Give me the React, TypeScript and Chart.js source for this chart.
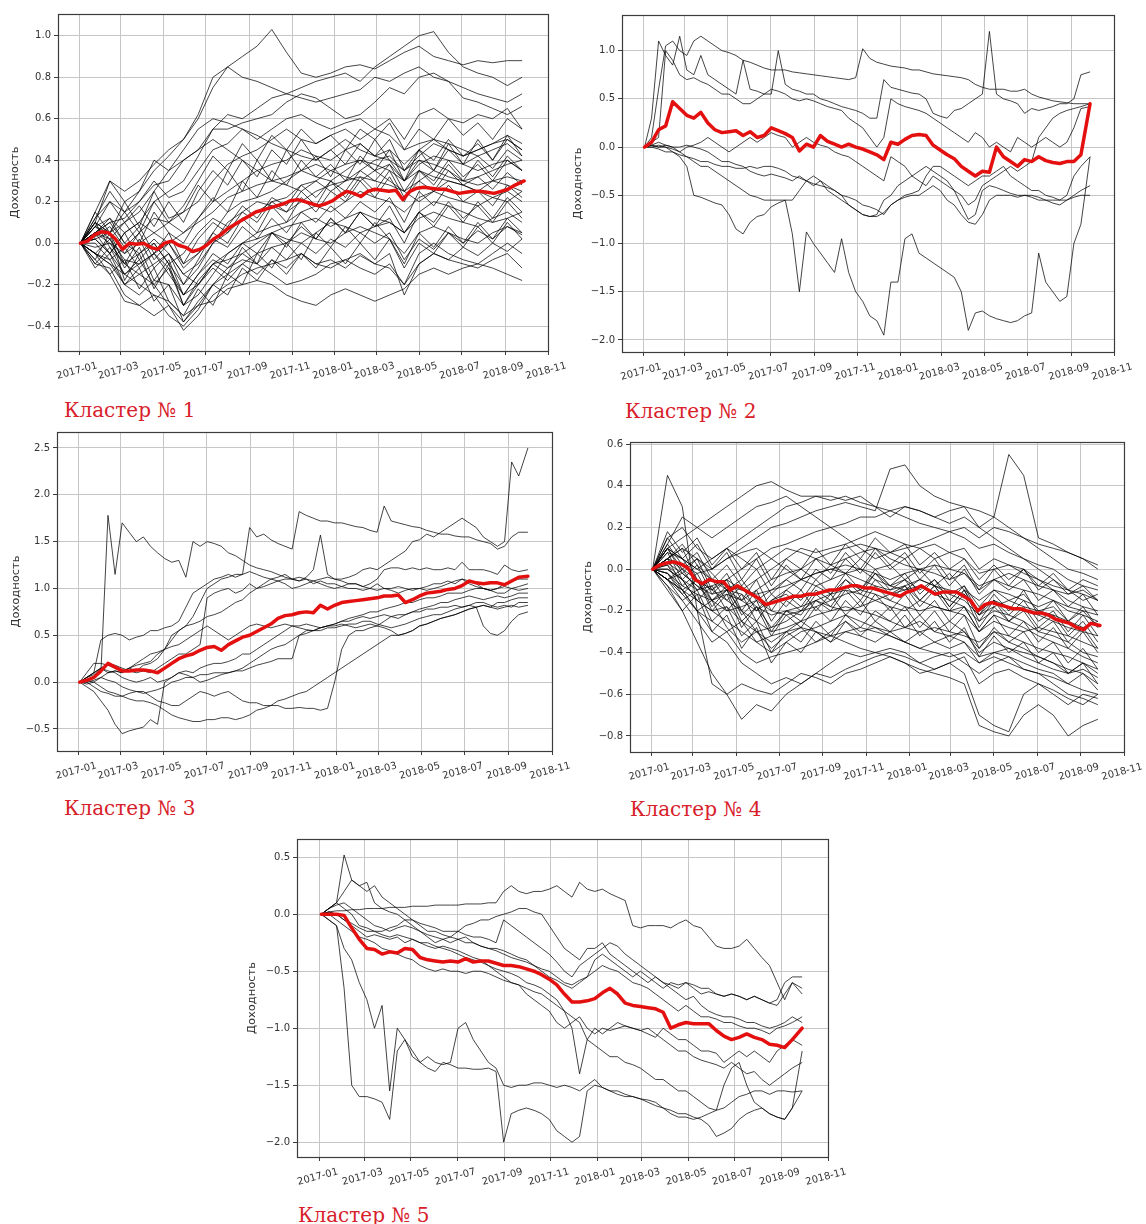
import React, { useEffect, useRef } from "react";
import { Chart, registerables } from "chart.js";

Chart.register(...registerables);

// ---------- calendar (days since 2017-01-01) ----------
const X_MIN = -30;
const X_MAX = 669;
const X_TICK_DAYS = [0, 59, 120, 181, 243, 304, 365, 424, 485, 546, 608, 669];
const X_TICK_LABELS = ["2017-01", "2017-03", "2017-05", "2017-07", "2017-09", "2017-11", "2018-01", "2018-03", "2018-05", "2018-07", "2018-09", "2018-11"];
const COARSE_DAYS = [2, 23, 44, 65, 86, 107, 128, 149, 170, 191, 212, 233, 254, 275, 296, 317, 338, 359, 380, 401, 422, 443, 464, 485, 506, 527, 548, 569, 590, 611, 632];
const FINE_DAYS = [2, 12, 22, 32, 42, 52, 62, 72, 82, 92, 102, 112, 122, 132, 142, 152, 162, 172, 182, 192, 202, 212, 222, 232, 242, 252, 262, 272, 282, 292, 302, 312, 322, 332, 342, 352, 362, 372, 382, 392, 402, 412, 422, 432, 442, 452, 462, 472, 482, 492, 502, 512, 522, 532, 542, 552, 562, 572, 582, 592, 602, 612, 622, 635];

// ---------- cluster 1 ----------
const C1_Y_TICKS = [-0.4, -0.2, 0.0, 0.2, 0.4, 0.6, 0.8, 1.0];
const C1_MEAN = [0.0, 0.01, 0.04, 0.055, 0.05, 0.02, -0.03, 0.0, -0.005, 0.0, -0.02, -0.03, 0.0, 0.01, -0.01, -0.02, -0.04, -0.03, -0.01, 0.02, 0.04, 0.07, 0.09, 0.11, 0.13, 0.15, 0.16, 0.17, 0.18, 0.19, 0.205, 0.21, 0.2, 0.19, 0.18, 0.19, 0.205, 0.23, 0.25, 0.24, 0.225, 0.25, 0.26, 0.255, 0.25, 0.255, 0.21, 0.25, 0.265, 0.27, 0.265, 0.26, 0.26, 0.25, 0.24, 0.245, 0.25, 0.25, 0.245, 0.24, 0.25, 0.26, 0.28, 0.3];
const C1_STOCKS = [
  [0, 0.08, 0.2, 0.15, 0.25, 0.35, 0.42, 0.5, 0.6, 0.75, 0.85, 0.9, 0.95, 1.03, 0.92, 0.82, 0.8, 0.82, 0.85, 0.86, 0.84, 0.88, 0.92, 0.95, 0.9, 0.88, 0.86, 0.88, 0.87, 0.88, 0.88],
  [0, 0.05, 0.1, 0.12, 0.2, 0.28, 0.3, 0.4, 0.45, 0.55, 0.62, 0.6, 0.65, 0.7, 0.72, 0.75, 0.78, 0.8, 0.82, 0.78, 0.85, 0.9, 0.95, 1.0, 1.02, 0.92, 0.85, 0.82, 0.8, 0.76, 0.8],
  [0, 0.1, 0.3, 0.25, 0.3, 0.38, 0.45, 0.5, 0.62, 0.8, 0.85, 0.8, 0.78, 0.75, 0.72, 0.7, 0.68, 0.7, 0.72, 0.74, 0.8, 0.78, 0.82, 0.85, 0.8, 0.78, 0.75, 0.72, 0.7, 0.68, 0.72],
  [0, 0.02, -0.05, 0.05, 0.1, 0.2, 0.25, 0.3, 0.42, 0.55, 0.55, 0.58, 0.6, 0.62, 0.68, 0.72, 0.7, 0.65, 0.6, 0.62, 0.68, 0.75, 0.72, 0.8, 0.82, 0.78, 0.7, 0.68, 0.65, 0.62, 0.66],
  [0, 0.05, 0.0, -0.05, 0.05, 0.12, 0.1, 0.15, 0.2, 0.3, 0.38, 0.42, 0.45, 0.5, 0.55, 0.5, 0.48, 0.52, 0.55, 0.5, 0.55, 0.6, 0.5, 0.62, 0.65, 0.6, 0.58, 0.62, 0.6, 0.65, 0.55],
  [0, 0.12, 0.25, 0.15, 0.2, 0.3, 0.22, 0.25, 0.35, 0.45, 0.48, 0.55, 0.52, 0.48, 0.45, 0.42, 0.4, 0.45, 0.5, 0.45, 0.42, 0.4, 0.35, 0.42, 0.48, 0.45, 0.42, 0.45, 0.48, 0.5, 0.45],
  [0, -0.05, -0.1, -0.15, -0.1, -0.05, 0.0, 0.05, 0.12, 0.2, 0.25, 0.3, 0.35, 0.38, 0.4, 0.45, 0.42, 0.4, 0.45, 0.48, 0.42, 0.45, 0.38, 0.45, 0.5, 0.48, 0.45, 0.42, 0.45, 0.48, 0.42],
  [0, 0.08, 0.05, -0.05, 0.0, 0.05, 0.0, -0.1, -0.05, 0.05, 0.15, 0.2, 0.22, 0.25, 0.3, 0.35, 0.32, 0.3, 0.35, 0.4, 0.38, 0.35, 0.3, 0.38, 0.42, 0.4, 0.38, 0.35, 0.38, 0.4, 0.35],
  [0, 0.02, 0.05, -0.1, -0.15, -0.1, -0.05, -0.15, -0.1, 0.0, 0.05, 0.12, 0.15, 0.2, 0.22, 0.28, 0.3, 0.25, 0.3, 0.32, 0.3, 0.28, 0.25, 0.3, 0.35, 0.32, 0.3, 0.28, 0.3, 0.32, 0.3],
  [0, -0.05, -0.08, -0.2, -0.25, -0.18, -0.2, -0.3, -0.25, -0.15, -0.05, 0.0, 0.05, 0.08, 0.1, 0.15, 0.18, 0.15, 0.2, 0.25, 0.22, 0.2, 0.15, 0.22, 0.25, 0.22, 0.2, 0.18, 0.22, 0.25, 0.2],
  [0, 0.05, 0.1, 0.0, -0.05, 0.02, -0.05, -0.15, -0.2, -0.1, -0.05, 0.0, 0.02, 0.05, 0.08, 0.1, 0.12, 0.08, 0.12, 0.15, 0.12, 0.1, 0.05, 0.12, 0.15, 0.12, 0.1, 0.08, 0.12, 0.15, 0.1],
  [0, -0.08, -0.15, -0.28, -0.3, -0.25, -0.35, -0.4, -0.32, -0.2, -0.15, -0.1, -0.05, -0.02, 0.0, 0.05, 0.02, 0.0, 0.05, 0.08, 0.05, 0.02, -0.05, 0.05, 0.08, 0.05, 0.02, 0.0, 0.05, 0.08, 0.05],
  [0, -0.05, -0.1, -0.2, -0.15, -0.2, -0.3, -0.42, -0.35, -0.25, -0.2, -0.15, -0.12, -0.1, -0.08, -0.05, -0.1, -0.12, -0.08, -0.05, -0.1, -0.12, -0.2, -0.1, -0.05, -0.08, -0.1, -0.12, -0.08, -0.05, -0.12],
  [0, 0.02, -0.05, -0.15, -0.2, -0.25, -0.28, -0.35, -0.3, -0.28, -0.22, -0.2, -0.18, -0.2, -0.25, -0.28, -0.3, -0.25, -0.22, -0.25, -0.28, -0.25, -0.22, -0.15, -0.12, -0.15, -0.12, -0.1, -0.12, -0.15, -0.18],
  [0, 0.1, 0.05, 0.1, 0.15, 0.25, 0.35, 0.4, 0.45, 0.5, 0.45, 0.4, 0.35, 0.3, 0.28, 0.25, 0.3, 0.35, 0.38, 0.4, 0.35, 0.3, 0.25, 0.2, 0.25, 0.3, 0.28, 0.25, 0.3, 0.28, 0.25],
  [0, -0.02, 0.0, -0.1, -0.05, 0.0, -0.1, -0.2, -0.12, 0.0, 0.1, 0.15, 0.2, 0.18, 0.15, 0.2, 0.25, 0.28, 0.3, 0.35, 0.4, 0.42, 0.35, 0.4, 0.38, 0.35, 0.3, 0.32, 0.35, 0.38, 0.4],
  [0, 0.05, 0.02, -0.08, -0.1, -0.05, -0.12, -0.25, -0.2, -0.1, -0.08, -0.05, 0.0, 0.05, 0.02, 0.0, 0.05, 0.1, 0.08, 0.05, 0.08, 0.1, 0.05, 0.15, 0.2, 0.18, 0.15, 0.12, 0.1, 0.12, 0.15],
  [0, 0.15, 0.3, 0.2, 0.25, 0.4, 0.35, 0.45, 0.55, 0.6, 0.58, 0.55, 0.5, 0.55, 0.6, 0.62, 0.58, 0.55, 0.58, 0.6, 0.55, 0.52, 0.45, 0.48, 0.5, 0.45, 0.42, 0.45, 0.48, 0.52, 0.48],
  [0, -0.1, -0.12, -0.25, -0.3, -0.35, -0.3, -0.38, -0.3, -0.2, -0.12, -0.08, -0.1, -0.15, -0.2, -0.18, -0.15, -0.1, -0.08, -0.12, -0.15, -0.1, -0.2, -0.05, 0.0, -0.05, -0.08, -0.1, -0.05, 0.0, -0.05],
  [0, 0.08, 0.12, 0.05, 0.1, 0.05, 0.1, 0.05, 0.1, 0.15, 0.22, 0.25, 0.28, 0.3, 0.32, 0.35, 0.38, 0.35, 0.32, 0.3, 0.35, 0.38, 0.3, 0.35, 0.32, 0.3, 0.28, 0.25, 0.22, 0.2, 0.25],
];
const C1_NOISY = [
  [0, 0.1, -0.02, -0.1, 0.02, -0.12, -0.05, -0.2, -0.08, 0.05, 0.0, 0.12, 0.05, 0.18, 0.1, 0.22, 0.15, 0.25, 0.2, 0.3, 0.22, 0.32, 0.2, 0.35, 0.28, 0.38, 0.3, 0.4, 0.32, 0.42, 0.35],
  [0, -0.08, 0.05, -0.18, -0.05, -0.22, -0.1, -0.3, -0.18, -0.1, -0.15, -0.02, -0.1, 0.05, -0.02, 0.1, 0.02, 0.12, 0.05, 0.15, 0.08, 0.12, 0.0, 0.15, 0.08, 0.18, 0.1, 0.2, 0.12, 0.22, 0.15],
  [0, 0.15, 0.05, 0.2, 0.08, 0.25, 0.12, 0.15, 0.28, 0.2, 0.35, 0.25, 0.4, 0.3, 0.45, 0.35, 0.42, 0.32, 0.45, 0.38, 0.5, 0.4, 0.3, 0.45, 0.35, 0.48, 0.38, 0.5, 0.4, 0.52, 0.42],
  [0, -0.05, -0.15, -0.08, -0.22, -0.12, -0.28, -0.35, -0.22, -0.3, -0.15, -0.2, -0.05, -0.12, 0.0, -0.08, 0.05, -0.02, 0.08, 0.0, 0.1, 0.02, -0.1, 0.05, -0.02, 0.08, 0.0, 0.1, 0.02, 0.12, 0.05],
  [0, 0.05, 0.12, 0.0, 0.08, -0.05, 0.05, -0.1, 0.02, 0.1, 0.05, 0.15, 0.1, 0.2, 0.15, 0.25, 0.18, 0.3, 0.22, 0.32, 0.25, 0.35, 0.22, 0.3, 0.25, 0.35, 0.28, 0.32, 0.26, 0.34, 0.28],
  [0, -0.12, -0.05, -0.2, -0.12, -0.28, -0.2, -0.38, -0.28, -0.2, -0.25, -0.12, -0.18, -0.08, -0.15, -0.05, -0.12, -0.02, -0.1, 0.0, -0.08, 0.02, -0.12, 0.0, -0.05, 0.05, -0.02, 0.08, 0.0, 0.1, 0.02],
  [0, 0.08, 0.02, 0.1, 0.0, 0.15, 0.05, 0.0, 0.12, 0.22, 0.15, 0.3, 0.22, 0.35, 0.28, 0.4, 0.32, 0.38, 0.3, 0.42, 0.35, 0.45, 0.3, 0.4, 0.35, 0.45, 0.38, 0.42, 0.36, 0.45, 0.4],
  [0, 0.0, -0.08, -0.02, -0.12, -0.05, -0.15, -0.25, -0.15, -0.05, -0.1, 0.0, -0.05, 0.05, 0.0, 0.08, 0.02, 0.12, 0.05, 0.15, 0.08, 0.18, 0.05, 0.15, 0.1, 0.2, 0.12, 0.18, 0.1, 0.2, 0.12],
  [0, 0.12, 0.2, 0.1, 0.18, 0.08, 0.2, 0.1, 0.25, 0.35, 0.28, 0.4, 0.32, 0.45, 0.38, 0.5, 0.4, 0.45, 0.38, 0.48, 0.42, 0.5, 0.35, 0.45, 0.4, 0.5, 0.42, 0.48, 0.4, 0.5, 0.45],
  [0, -0.05, 0.02, -0.12, -0.02, -0.18, -0.08, -0.25, -0.15, -0.08, -0.12, -0.05, -0.1, -0.02, -0.08, 0.0, -0.05, 0.02, -0.02, 0.05, 0.0, 0.05, -0.08, 0.02, -0.03, 0.05, 0.0, 0.06, 0.02, 0.08, 0.04],
  [0, 0.05, -0.05, 0.05, -0.08, 0.0, -0.1, -0.05, 0.05, 0.12, 0.08, 0.18, 0.12, 0.22, 0.18, 0.28, 0.22, 0.3, 0.25, 0.35, 0.3, 0.38, 0.25, 0.35, 0.3, 0.4, 0.32, 0.38, 0.3, 0.4, 0.35],
  [0, -0.1, -0.02, -0.15, -0.08, -0.2, -0.12, -0.3, -0.2, -0.12, -0.18, -0.1, -0.15, -0.08, -0.12, -0.05, -0.1, -0.08, -0.12, -0.06, -0.1, -0.05, -0.25, -0.1, -0.05, -0.08, -0.02, -0.06, 0.0, -0.04, 0.02],
  [0, 0.1, 0.05, 0.15, 0.05, 0.2, 0.1, 0.18, 0.3, 0.42, 0.35, 0.48, 0.4, 0.52, 0.45, 0.55, 0.48, 0.52, 0.45, 0.55, 0.5, 0.58, 0.45, 0.55, 0.5, 0.6, 0.52, 0.58, 0.5, 0.6, 0.55],
  [0, 0.03, 0.08, -0.02, 0.05, -0.08, 0.0, -0.12, -0.05, 0.02, -0.02, 0.08, 0.02, 0.12, 0.05, 0.15, 0.1, 0.18, 0.12, 0.2, 0.15, 0.22, 0.1, 0.25, 0.18, 0.28, 0.2, 0.25, 0.18, 0.28, 0.22],
];

// ---------- cluster 2 ----------
const C2_Y_TICKS = [-2.0, -1.5, -1.0, -0.5, 0.0, 0.5, 1.0];
const C2_MEAN = [0.0, 0.05, 0.18, 0.22, 0.47, 0.4, 0.33, 0.3, 0.36, 0.25, 0.18, 0.15, 0.16, 0.17, 0.12, 0.16, 0.1, 0.12, 0.2, 0.17, 0.14, 0.1, -0.04, 0.03, 0.0, 0.12, 0.06, 0.03, 0.0, 0.03, 0.0, -0.02, -0.05, -0.08, -0.13, 0.05, 0.03, 0.08, 0.12, 0.13, 0.12, 0.02, -0.03, -0.08, -0.12, -0.2, -0.25, -0.3, -0.25, -0.26, 0.0, -0.1, -0.15, -0.2, -0.13, -0.15, -0.1, -0.14, -0.16, -0.17, -0.15, -0.15, -0.08, 0.45];
const C2_STOCKS = [
  [0, 0.1, 0.6, 1.05, 1.1, 1.0, 0.95, 1.1, 1.15, 1.1, 1.05, 1.0, 0.98, 0.95, 0.9, 0.88, 0.85, 0.82, 0.8, 0.8, 0.8, 0.78, 0.77, 0.76, 0.75, 0.74, 0.73, 0.72, 0.71, 0.7, 0.72, 1.02, 0.92, 0.88, 0.86, 0.84, 0.83, 0.82, 0.8, 0.8, 0.78, 0.76, 0.75, 0.74, 0.73, 0.72, 0.7, 0.65, 0.62, 0.6, 0.6, 0.6, 0.58, 0.58, 0.6, 0.55, 0.52, 0.5, 0.48, 0.47, 0.46, 0.45, 0.45, 0.45],
  [0, 0.3, 1.1, 0.95, 0.85, 1.15, 0.8, 0.75, 0.95, 0.75, 0.7, 0.65, 0.6, 0.55, 0.9, 0.6, 0.58, 0.55, 0.55, 1.0, 0.65, 0.6, 0.58, 0.55, 0.55, 0.5, 0.48, 0.45, 0.42, 0.4, 0.38, 0.35, 0.3, 0.3, 0.7, 0.62, 0.6, 0.58, 0.56, 0.55, 0.5, 0.35, 0.32, 0.3, 0.38, 0.4, 0.45, 0.5, 0.55, 1.2, 0.55, 0.5, 0.48, 0.45, 0.35, 0.4, 0.38, 0.4, 0.42, 0.45, 0.45, 0.5, 0.75, 0.78],
  [0, 0.0, -0.02, -0.05, -0.05, -0.08, -0.1, -0.12, -0.15, -0.15, -0.18, -0.2, -0.2, -0.22, -0.22, -0.2, -0.22, -0.2, -0.2, -0.22, -0.25, -0.3, -0.32, -0.35, -0.38, -0.4, -0.42, -0.45, -0.5, -0.52, -0.55, -0.6, -0.62, -0.65, -0.7, -0.6, -0.55, -0.52, -0.5, -0.5, -0.45, -0.4, -0.45, -0.55, -0.6, -0.7, -0.78, -0.8, -0.7, -0.55, -0.5, -0.5, -0.5, -0.52, -0.5, -0.5, -0.52, -0.55, -0.55, -0.55, -0.55, -0.52, -0.5, -0.5],
  [0, 0.02, 0.0, 0.0, -0.05, -0.1, -0.2, -0.5, -0.52, -0.55, -0.58, -0.6, -0.7, -0.85, -0.9, -0.78, -0.72, -0.7, -0.62, -0.58, -0.55, -0.55, -0.45, -0.35, -0.3, -0.35, -0.4, -0.45, -0.5, -0.6, -0.65, -0.7, -0.72, -0.7, -0.55, -0.5, -0.4, -0.35, -0.3, -0.25, -0.2, -0.25, -0.3, -0.35, -0.45, -0.6, -0.75, -0.7, -0.45, -0.4, -0.42, -0.45, -0.48, -0.5, -0.5, -0.52, -0.55, -0.55, -0.58, -0.6, -0.55, -0.5, -0.45, -0.4],
  [0, 0.0, 0.02, 0.0, -0.02, -0.05, -0.1, -0.15, -0.2, -0.2, -0.25, -0.3, -0.35, -0.4, -0.45, -0.5, -0.52, -0.55, -0.55, -0.55, -0.55, -0.9, -1.5, -0.88, -1.0, -1.1, -1.2, -1.3, -0.95, -1.3, -1.5, -1.6, -1.75, -1.8, -1.95, -1.4, -1.4, -0.95, -0.9, -1.1, -1.15, -1.2, -1.25, -1.3, -1.35, -1.5, -1.9, -1.72, -1.7, -1.75, -1.78, -1.8, -1.82, -1.8, -1.75, -1.72, -1.1, -1.4, -1.5, -1.6, -1.55, -1.0, -0.8, -0.1],
  [0, 0.02, 0.05, 0.02, 0.0, -0.05, 0.0, 0.02, 0.05, 0.1, 0.05, 0.0, -0.05, 0.0, 0.05, 0.1, 0.05, 0.1, 0.15, 0.12, 0.1, 0.0, 0.05, 0.1, 0.05, 0.02, 0.0, -0.05, -0.08, -0.1, -0.15, -0.2, -0.25, -0.3, -0.35, -0.1, -0.15, -0.2, -0.3, -0.35, -0.4, -0.3, -0.35, -0.4, -0.45, -0.5, -0.6, -0.55, -0.4, -0.35, -0.3, -0.25, -0.2, -0.25, -0.2, -0.15, 0.1, 0.2, 0.3, 0.35, 0.38, 0.4, 0.42, 0.45],
  [0, 0.05, 0.1, 1.0, 0.9, 0.75, 0.7, 0.72, 0.68, 0.65, 0.6, 0.55, 0.55, 0.5, 0.45, 0.45, 0.5, 0.55, 0.6, 0.58, 0.55, 0.5, 0.48, 0.5, 0.48, 0.45, 0.42, 0.4, 0.38, 0.3, 0.25, 0.2, 0.1, 0.0, 0.1, 0.5, 0.45, 0.42, 0.4, 0.38, 0.35, 0.3, 0.25, 0.2, 0.15, 0.1, 0.05, 0.15, 0.1, 0.0, 0.05, 0.0, -0.05, 0.1, 0.05, 0.0, 0.05, 0.1, 0.05, 0.0, 0.05, 0.2, 0.4, 0.42],
  [0, 0.02, 0.0, 0.02, 0.0, 0.0, 0.02, 0.0, -0.02, -0.05, -0.1, -0.15, -0.15, -0.18, -0.2, -0.25, -0.28, -0.3, -0.28, -0.3, -0.32, -0.35, -0.3, -0.35, -0.4, -0.35, -0.45, -0.5, -0.55, -0.6, -0.65, -0.7, -0.72, -0.72, -0.68, -0.6, -0.55, -0.5, -0.48, -0.45, -0.3, -0.2, -0.2, -0.25, -0.3, -0.35, -0.4, -0.35, -0.3, -0.3, -0.25, -0.2, -0.3, -0.35, -0.4, -0.45, -0.45, -0.5, -0.52, -0.55, -0.5, -0.3, -0.2, -0.1],
];

// ---------- cluster 3 ----------
const C3_Y_TICKS = [-0.5, 0.0, 0.5, 1.0, 1.5, 2.0, 2.5];
const C3_MEAN = [0.0, 0.02, 0.05, 0.12, 0.2, 0.16, 0.12, 0.12, 0.13, 0.13, 0.12, 0.1, 0.15, 0.2, 0.25, 0.28, 0.3, 0.34, 0.37, 0.38, 0.34, 0.4, 0.44, 0.48, 0.5, 0.54, 0.58, 0.62, 0.68, 0.71, 0.72, 0.74, 0.75, 0.74, 0.82, 0.78, 0.82, 0.85, 0.86, 0.87, 0.88, 0.89, 0.9, 0.92, 0.92, 0.93, 0.85, 0.88, 0.92, 0.95, 0.96, 0.97, 0.99, 1.0, 1.03, 1.08, 1.06, 1.05, 1.06, 1.06, 1.04, 1.08, 1.12, 1.13];
const C3_STOCKS = [
  [0, 0.02, 0.05, 0.1, 1.78, 1.15, 1.7, 1.6, 1.5, 1.55, 1.45, 1.38, 1.32, 1.28, 1.3, 1.12, 1.5, 1.45, 1.5, 1.48, 1.45, 1.38, 1.35, 1.3, 1.25, 1.22, 1.2, 1.18, 1.15, 1.12, 1.1, 1.08, 1.1, 1.05, 1.08, 1.05, 1.05, 1.02, 1.0, 1.0, 0.98, 1.0, 1.05, 1.0, 0.98, 0.95, 0.98, 1.0, 1.0, 1.02, 1.05, 1.05, 1.08, 1.05, 1.1, 1.08, 1.05, 1.0, 0.98, 0.95, 0.95, 1.0, 1.02, 1.05],
  [0, 0.05, 0.1, 0.45, 0.5, 0.52, 0.5, 0.45, 0.48, 0.5, 0.55, 0.55, 0.58, 0.6, 0.65, 0.8, 0.95, 1.0, 1.05, 1.1, 1.12, 1.15, 1.12, 1.15, 1.65, 1.55, 1.58, 1.52, 1.48, 1.45, 1.42, 1.82, 1.78, 1.75, 1.72, 1.72, 1.7, 1.7, 1.68, 1.66, 1.65, 1.62, 1.6, 1.88, 1.72, 1.7, 1.68, 1.66, 1.65, 1.62, 1.6, 1.58, 1.58, 1.56, 1.55, 1.55, 1.52, 1.5, 1.48, 1.42, 1.45, 1.55, 1.6, 1.6],
  [0, -0.02, 0.0, 0.05, 0.1, 0.12, 0.1, 0.15, 0.18, 0.2, 0.22, 0.3, 0.35, 0.5, 0.55, 0.6, 0.62, 0.65, 0.7, 0.72, 0.75, 0.8, 0.85, 0.88, 0.95, 1.0, 1.05, 1.1, 1.08, 1.1, 1.1, 1.12, 1.1, 1.08, 1.1, 1.12, 1.1, 1.1, 1.12, 1.15, 1.2, 1.22, 1.2, 1.25, 1.3, 1.35, 1.4, 1.5, 1.52, 1.58, 1.55, 1.6, 1.65, 1.7, 1.75, 1.7, 1.65, 1.55, 1.5, 1.45, 1.5, 2.35, 2.2, 2.5],
  [0, -0.05, -0.1, -0.2, -0.3, -0.45, -0.55, -0.52, -0.5, -0.48, -0.4, -0.45, 0.0, 0.05, 0.1, 0.08, 0.05, 0.0, 0.02, 0.05, 0.08, 0.1, 0.12, 0.15, 0.2, 0.25, 0.3, 0.35, 0.38, 0.4, 0.45, 0.5, 0.55, 0.55, 0.58, 0.6, 0.62, 0.65, 0.68, 0.7, 0.72, 0.75, 0.75, 0.78, 0.8, 0.82, 0.85, 0.85, 0.88, 0.9, 0.9, 0.92, 0.95, 0.95, 0.95, 0.98, 1.0, 1.0, 0.98, 1.0, 1.02, 1.0, 0.98, 1.0],
  [0, 0.0, -0.05, -0.1, -0.12, -0.15, -0.15, -0.18, -0.2, -0.2, -0.22, -0.25, -0.3, -0.35, -0.38, -0.4, -0.42, -0.42, -0.4, -0.4, -0.38, -0.38, -0.4, -0.38, -0.35, -0.3, -0.28, -0.25, -0.2, -0.18, -0.15, -0.12, -0.1, -0.05, 0.0, 0.05, 0.1, 0.15, 0.2, 0.25, 0.3, 0.35, 0.4, 0.45, 0.5, 0.5, 0.52, 0.55, 0.6, 0.62, 0.65, 0.68, 0.7, 0.72, 0.75, 0.78, 0.8, 0.82, 0.8, 0.85, 0.85, 0.88, 0.9, 0.9],
  [0, 0.02, 0.0, -0.05, -0.1, -0.12, -0.15, -0.12, -0.1, -0.1, -0.15, -0.2, -0.22, -0.25, -0.25, -0.2, -0.15, -0.1, -0.12, -0.15, -0.12, -0.1, -0.15, -0.2, -0.22, -0.22, -0.25, -0.25, -0.25, -0.28, -0.28, -0.27, -0.28, -0.28, -0.3, -0.28, 0.0, 0.35, 0.5, 0.55, 0.55, 0.58, 0.6, 0.65, 0.7, 0.72, 0.72, 0.75, 0.75, 0.78, 0.78, 0.8, 0.8, 0.82, 0.8, 0.82, 0.8, 0.6, 0.52, 0.5, 0.55, 0.65, 0.72, 0.75],
  [0, 0.05, 0.08, 0.15, 0.1, 0.12, 0.1, 0.15, 0.12, 0.18, 0.2, 0.25, 0.35, 0.45, 0.55, 0.6, 0.7, 0.85, 1.0, 1.05, 1.1, 1.12, 1.15, 1.15, 1.18, 1.15, 1.12, 1.1, 1.12, 1.15, 1.1, 1.08, 1.12, 1.2, 1.57, 1.15, 1.1, 1.08, 1.05, 1.05, 1.02, 1.05, 1.1, 1.2, 1.22, 1.22, 1.2, 1.22, 1.2, 1.22, 1.2, 1.2, 1.22, 1.2, 1.28, 1.2, 1.2, 1.2, 1.18, 1.15, 1.25, 1.2, 1.18, 1.2],
  [0, 0.05, 0.1, 0.15, 0.12, 0.1, 0.05, 0.02, 0.0, 0.02, 0.05, 0.0, 0.02, 0.05, 0.1, 0.12, 0.1, 0.15, 0.18, 0.2, 0.2, 0.22, 0.25, 0.3, 0.3, 0.35, 0.4, 0.45, 0.5, 0.55, 0.6, 0.6, 0.62, 0.6, 0.58, 0.6, 0.62, 0.65, 0.65, 0.68, 0.7, 0.68, 0.7, 0.72, 0.7, 0.68, 0.72, 0.75, 0.78, 0.8, 0.82, 0.85, 0.85, 0.88, 0.9, 0.92, 0.9, 0.88, 0.9, 0.92, 0.9, 0.92, 0.95, 0.95],
  [0, 0.0, 0.02, 0.05, 0.02, 0.0, -0.05, -0.08, -0.1, -0.12, -0.1, -0.08, -0.05, 0.0, 0.02, 0.05, 0.05, 0.08, 0.08, 0.1, 0.1, 0.1, 0.12, 0.12, 0.15, 0.18, 0.2, 0.22, 0.25, 0.25, 0.25, 0.5, 0.52, 0.55, 0.55, 0.58, 0.58, 0.6, 0.62, 0.62, 0.65, 0.65, 0.62, 0.6, 0.58, 0.6, 0.62, 0.65, 0.68, 0.7, 0.72, 0.72, 0.75, 0.78, 0.8, 0.82, 0.85, 0.85, 0.82, 0.8, 0.82, 0.8, 0.85, 0.85],
  [0, 0.05, 0.1, 0.15, 0.2, 0.18, 0.15, 0.12, 0.1, 0.12, 0.1, 0.15, 0.2, 0.25, 0.3, 0.3, 0.35, 0.4, 0.9, 0.95, 0.98, 1.0, 0.95, 0.98, 1.05, 1.0, 1.02, 1.05, 1.08, 1.05, 1.0, 1.02, 1.05, 1.08, 1.05, 1.02, 1.0, 1.02, 1.05, 1.05, 1.02, 1.0, 0.98, 1.0, 1.0, 1.02, 1.0, 0.98, 1.0, 0.98, 1.0, 1.02, 1.05, 1.08, 1.1, 1.05, 1.02, 1.0, 0.98, 1.0, 1.05, 1.08, 1.1, 1.1],
  [0, 0.1, 0.2, 0.2, 0.18, 0.15, 0.12, 0.15, 0.2, 0.25, 0.3, 0.32, 0.35, 0.38, 0.4, 0.45, 0.5, 0.55, 0.6, 0.55, 0.5, 0.45, 0.5, 0.55, 0.6, 0.62, 0.6, 0.58, 0.6, 0.62, 0.6, 0.58, 0.56, 0.55, 0.58, 0.6, 0.6, 0.62, 0.6, 0.58, 0.6, 0.62, 0.6, 0.58, 0.55, 0.5, 0.52, 0.55, 0.6, 0.62, 0.65, 0.68, 0.7, 0.72, 0.75, 0.78, 0.8, 0.82, 0.8, 0.78, 0.8, 0.82, 0.8, 0.82],
];

// ---------- cluster 4 ----------
const C4_Y_TICKS = [-0.8, -0.6, -0.4, -0.2, 0.0, 0.2, 0.4, 0.6];
const C4_MEAN = [0.0, 0.02, 0.03, 0.035, 0.025, 0.005, -0.05, -0.07, -0.05, -0.06, -0.06, -0.1, -0.08, -0.1, -0.12, -0.14, -0.17, -0.16, -0.15, -0.14, -0.13, -0.13, -0.12, -0.12, -0.11, -0.1, -0.1, -0.09, -0.08, -0.08, -0.09, -0.09, -0.1, -0.11, -0.12, -0.13, -0.11, -0.1, -0.08, -0.1, -0.12, -0.11, -0.11, -0.11, -0.13, -0.15, -0.2, -0.17, -0.16, -0.17, -0.18, -0.19, -0.19, -0.2, -0.21, -0.21, -0.22, -0.24, -0.25, -0.26, -0.28, -0.29, -0.26, -0.27];
const C4_STOCKS = [
  [0, 0.45, 0.3, -0.2, -0.55, -0.6, -0.55, -0.58, -0.6, -0.55, -0.5, -0.52, -0.55, -0.5, -0.48, -0.45, -0.42, -0.45, -0.5, -0.48, -0.45, -0.5, -0.7, -0.75, -0.78, -0.6, -0.55, -0.6, -0.65, -0.6, -0.62],
  [0, 0.1, 0.15, 0.2, 0.25, 0.3, 0.35, 0.4, 0.42, 0.38, 0.35, 0.35, 0.33, 0.35, 0.32, 0.3, 0.28, 0.25, 0.22, 0.2, 0.18, 0.15, 0.1, 0.12, 0.08, 0.05, 0.02, 0.0, -0.05, -0.08, -0.1],
  [0, 0.05, 0.1, 0.05, 0.0, 0.05, 0.1, 0.15, 0.2, 0.22, 0.25, 0.28, 0.3, 0.32, 0.3, 0.28, 0.48, 0.5, 0.4, 0.35, 0.32, 0.3, 0.28, 0.25, 0.2, 0.15, 0.1, 0.05, 0.0, -0.02, -0.05],
  [0, -0.05, 0.0, -0.05, -0.1, -0.05, 0.0, 0.05, 0.1, 0.12, 0.15, 0.18, 0.2, 0.22, 0.25, 0.25, 0.28, 0.3, 0.28, 0.25, 0.22, 0.25, 0.2, 0.25, 0.55, 0.45, 0.15, 0.12, 0.08, 0.05, 0.0],
  [0, -0.1, -0.2, -0.35, -0.5, -0.6, -0.72, -0.65, -0.68, -0.6, -0.55, -0.5, -0.45, -0.4, -0.42, -0.4, -0.38, -0.4, -0.45, -0.42, -0.4, -0.45, -0.5, -0.45, -0.42, -0.48, -0.5, -0.55, -0.6, -0.62, -0.65],
  [0, -0.05, -0.1, -0.15, -0.2, -0.25, -0.3, -0.35, -0.32, -0.3, -0.28, -0.3, -0.32, -0.35, -0.38, -0.4, -0.42, -0.45, -0.48, -0.5, -0.52, -0.55, -0.75, -0.78, -0.8, -0.7, -0.65, -0.7, -0.8, -0.75, -0.72],
  [0, 0.1, 0.05, -0.05, -0.1, -0.15, -0.2, -0.25, -0.3, -0.28, -0.25, -0.22, -0.2, -0.18, -0.2, -0.22, -0.25, -0.28, -0.3, -0.28, -0.3, -0.32, -0.35, -0.3, -0.32, -0.35, -0.38, -0.4, -0.42, -0.45, -0.48],
  [0, 0.05, 0.0, -0.1, -0.05, -0.1, -0.15, -0.2, -0.15, -0.1, -0.05, -0.08, -0.05, -0.02, 0.0, -0.05, -0.08, -0.1, -0.05, -0.08, -0.1, -0.12, -0.2, -0.15, -0.18, -0.2, -0.22, -0.25, -0.28, -0.3, -0.32],
  [0, 0.15, 0.2, 0.1, 0.05, 0.1, 0.05, 0.0, 0.05, 0.1, 0.08, 0.05, 0.02, 0.05, 0.08, 0.1, 0.05, 0.02, 0.0, -0.02, -0.05, -0.02, -0.1, -0.05, -0.08, -0.1, -0.12, -0.15, -0.18, -0.2, -0.22],
  [0, -0.05, -0.12, -0.2, -0.25, -0.3, -0.4, -0.45, -0.42, -0.4, -0.38, -0.35, -0.32, -0.3, -0.28, -0.3, -0.32, -0.35, -0.38, -0.4, -0.42, -0.4, -0.45, -0.42, -0.45, -0.48, -0.5, -0.52, -0.55, -0.58, -0.6],
  [0, 0.08, 0.05, 0.0, -0.05, -0.08, -0.1, -0.12, -0.1, -0.08, -0.05, -0.02, 0.0, 0.02, 0.0, -0.02, -0.05, -0.02, 0.0, 0.02, 0.0, -0.02, -0.08, -0.05, -0.02, -0.05, -0.08, -0.1, -0.12, -0.1, -0.15],
  [0, 0.02, -0.05, -0.15, -0.2, -0.18, -0.25, -0.3, -0.28, -0.25, -0.2, -0.18, -0.15, -0.12, -0.1, -0.12, -0.15, -0.18, -0.2, -0.18, -0.2, -0.22, -0.3, -0.25, -0.28, -0.3, -0.28, -0.3, -0.32, -0.35, -0.38],
  [0, 0.12, 0.25, 0.2, 0.15, 0.2, 0.25, 0.3, 0.32, 0.35, 0.3, 0.25, 0.2, 0.15, 0.1, 0.05, 0.08, 0.1, 0.12, 0.15, 0.18, 0.2, 0.15, 0.2, 0.18, 0.15, 0.12, 0.1, 0.08, 0.05, 0.02],
  [0, -0.02, -0.08, -0.12, -0.15, -0.2, -0.18, -0.15, -0.2, -0.22, -0.2, -0.15, -0.12, -0.1, -0.12, -0.15, -0.12, -0.1, -0.08, -0.12, -0.15, -0.18, -0.25, -0.2, -0.22, -0.25, -0.3, -0.32, -0.35, -0.4, -0.42],
  [0, -0.02, -0.1, -0.2, -0.3, -0.35, -0.45, -0.5, -0.55, -0.52, -0.55, -0.5, -0.52, -0.48, -0.45, -0.42, -0.4, -0.42, -0.45, -0.48, -0.45, -0.42, -0.55, -0.5, -0.48, -0.52, -0.55, -0.58, -0.62, -0.65, -0.6],
  [0, 0.05, 0.02, -0.02, 0.0, 0.05, 0.08, 0.1, 0.05, 0.0, -0.05, -0.02, 0.0, -0.02, -0.05, -0.08, -0.1, -0.08, -0.05, -0.08, -0.12, -0.15, -0.22, -0.18, -0.15, -0.18, -0.2, -0.22, -0.25, -0.28, -0.25],
  [0, -0.08, -0.15, -0.25, -0.35, -0.3, -0.25, -0.35, -0.4, -0.35, -0.3, -0.28, -0.25, -0.22, -0.25, -0.28, -0.3, -0.35, -0.38, -0.35, -0.32, -0.35, -0.42, -0.4, -0.38, -0.4, -0.42, -0.45, -0.48, -0.5, -0.55],
  [0, 0.1, 0.05, 0.0, 0.05, 0.1, 0.15, 0.2, 0.25, 0.3, 0.32, 0.35, 0.35, 0.33, 0.35, 0.3, 0.25, 0.3, 0.28, 0.25, 0.28, 0.3, 0.2, 0.15, 0.1, 0.05, 0.0, -0.05, -0.1, -0.12, -0.15],
  [0, 0.03, -0.02, -0.08, -0.12, -0.1, -0.12, -0.18, -0.22, -0.2, -0.18, -0.15, -0.18, -0.2, -0.18, -0.15, -0.18, -0.2, -0.15, -0.18, -0.2, -0.18, -0.3, -0.22, -0.25, -0.28, -0.32, -0.35, -0.38, -0.42, -0.45],
  [0, -0.05, -0.02, -0.08, -0.15, -0.12, -0.15, -0.1, -0.05, -0.02, 0.0, 0.05, 0.08, 0.1, 0.12, 0.1, 0.08, 0.05, 0.1, 0.12, 0.08, 0.05, -0.02, 0.0, 0.02, -0.02, -0.05, -0.1, -0.15, -0.18, -0.2],
  [0, 0.05, 0.1, -0.05, -0.15, -0.1, -0.2, -0.3, -0.35, -0.3, -0.25, -0.3, -0.35, -0.3, -0.32, -0.35, -0.3, -0.28, -0.25, -0.3, -0.32, -0.3, -0.4, -0.35, -0.38, -0.42, -0.45, -0.48, -0.5, -0.45, -0.5],
  [0, 0.0, -0.05, -0.1, -0.08, -0.05, -0.1, -0.05, 0.0, 0.05, 0.1, 0.08, 0.1, 0.12, 0.15, 0.18, 0.15, 0.12, 0.1, 0.05, 0.08, 0.1, 0.0, 0.05, 0.02, 0.0, -0.05, -0.08, -0.1, -0.15, -0.12],
];
const C4_NOISY = [
  [0, 0.1, -0.02, 0.05, -0.1, -0.02, -0.15, -0.05, -0.2, -0.1, -0.15, -0.05, -0.12, -0.02, -0.1, 0.0, -0.08, -0.02, -0.12, -0.05, -0.15, -0.08, -0.22, -0.12, -0.2, -0.1, -0.22, -0.15, -0.25, -0.18, -0.28],
  [0, -0.02, -0.12, -0.05, -0.2, -0.12, -0.28, -0.18, -0.32, -0.22, -0.28, -0.18, -0.25, -0.15, -0.22, -0.12, -0.2, -0.12, -0.22, -0.15, -0.25, -0.18, -0.3, -0.22, -0.32, -0.25, -0.35, -0.28, -0.38, -0.3, -0.4],
  [0, 0.15, 0.05, 0.12, 0.0, 0.08, -0.05, 0.05, -0.08, 0.02, -0.05, 0.05, -0.02, 0.08, 0.0, 0.1, 0.02, 0.08, -0.02, 0.05, -0.05, 0.02, -0.1, 0.0, -0.08, 0.0, -0.1, -0.05, -0.12, -0.08, -0.15],
  [0, 0.05, -0.08, -0.02, -0.15, -0.08, -0.22, -0.15, -0.3, -0.2, -0.25, -0.15, -0.2, -0.1, -0.18, -0.08, -0.15, -0.08, -0.18, -0.1, -0.2, -0.12, -0.28, -0.18, -0.25, -0.2, -0.3, -0.25, -0.35, -0.28, -0.38],
  [0, -0.05, -0.15, -0.1, -0.25, -0.18, -0.32, -0.25, -0.4, -0.3, -0.35, -0.25, -0.32, -0.22, -0.28, -0.2, -0.25, -0.18, -0.28, -0.2, -0.3, -0.22, -0.38, -0.28, -0.35, -0.3, -0.4, -0.35, -0.45, -0.38, -0.48],
  [0, 0.12, 0.02, 0.08, -0.05, 0.02, -0.08, 0.0, -0.12, -0.05, -0.1, 0.0, -0.05, 0.05, -0.02, 0.08, 0.0, 0.05, -0.05, 0.02, -0.08, 0.0, -0.12, -0.05, -0.1, -0.05, -0.15, -0.1, -0.18, -0.12, -0.22],
  [0, 0.02, -0.1, -0.05, -0.18, -0.1, -0.25, -0.18, -0.28, -0.2, -0.22, -0.12, -0.18, -0.08, -0.15, -0.05, -0.12, -0.08, -0.15, -0.08, -0.18, -0.1, -0.25, -0.15, -0.22, -0.15, -0.25, -0.2, -0.3, -0.22, -0.32],
  [0, 0.08, -0.05, 0.02, -0.12, -0.05, -0.2, -0.1, -0.25, -0.15, -0.2, -0.1, -0.15, -0.05, -0.12, -0.02, -0.1, -0.05, -0.15, -0.08, -0.18, -0.1, -0.22, -0.15, -0.25, -0.18, -0.28, -0.22, -0.32, -0.25, -0.35],
  [0, -0.08, -0.2, -0.12, -0.3, -0.22, -0.38, -0.28, -0.45, -0.35, -0.4, -0.3, -0.35, -0.25, -0.32, -0.25, -0.3, -0.22, -0.32, -0.25, -0.35, -0.28, -0.42, -0.32, -0.4, -0.35, -0.45, -0.4, -0.5, -0.45, -0.55],
  [0, 0.18, 0.08, 0.15, 0.02, 0.1, 0.0, 0.08, -0.05, 0.05, 0.0, 0.1, 0.02, 0.12, 0.05, 0.15, 0.08, 0.12, 0.02, 0.08, 0.0, 0.05, -0.05, 0.02, -0.05, 0.0, -0.08, -0.02, -0.1, -0.05, -0.08],
  [0, 0.0, -0.05, -0.15, -0.08, -0.2, -0.12, -0.25, -0.15, -0.12, -0.18, -0.08, -0.12, -0.05, -0.1, -0.02, -0.08, -0.05, -0.1, -0.05, -0.12, -0.08, -0.18, -0.1, -0.15, -0.12, -0.2, -0.18, -0.25, -0.2, -0.28],
  [0, 0.05, 0.12, 0.02, -0.05, -0.15, -0.08, -0.2, -0.12, -0.18, -0.1, -0.2, -0.12, -0.22, -0.15, -0.25, -0.18, -0.28, -0.22, -0.3, -0.25, -0.3, -0.38, -0.3, -0.35, -0.38, -0.42, -0.45, -0.5, -0.48, -0.52],
  [0, 0.1, 0.0, 0.05, -0.02, -0.1, -0.05, -0.15, -0.1, -0.05, 0.0, -0.05, 0.02, -0.02, 0.05, 0.0, 0.02, -0.05, 0.0, -0.08, -0.02, -0.1, -0.15, -0.1, -0.12, -0.15, -0.18, -0.15, -0.2, -0.22, -0.25],
  [0, -0.05, -0.1, -0.2, -0.15, -0.28, -0.35, -0.3, -0.38, -0.32, -0.28, -0.35, -0.3, -0.25, -0.3, -0.28, -0.32, -0.35, -0.3, -0.35, -0.38, -0.35, -0.45, -0.4, -0.42, -0.45, -0.48, -0.5, -0.55, -0.5, -0.58],
];

// ---------- cluster 5 ----------
const C5_Y_TICKS = [-2.0, -1.5, -1.0, -0.5, 0.0, 0.5];
const C5_MEAN = [0.0, 0.0, 0.0, -0.01, -0.12, -0.22, -0.3, -0.31, -0.35, -0.33, -0.34, -0.3, -0.31, -0.38, -0.4, -0.41, -0.42, -0.41, -0.42, -0.39, -0.42, -0.41, -0.41, -0.43, -0.45, -0.45, -0.46, -0.48, -0.5, -0.53, -0.57, -0.62, -0.7, -0.77, -0.77, -0.76, -0.74, -0.69, -0.65, -0.7, -0.78, -0.8, -0.81, -0.82, -0.83, -0.86, -1.0, -0.97, -0.95, -0.96, -0.96, -0.96, -1.02, -1.07, -1.1, -1.08, -1.05, -1.08, -1.1, -1.14, -1.15, -1.17, -1.1, -1.0];
const C5_STOCKS = [
  [0.0, 0.02, 0.03, 0.03, 0.04, 0.04, 0.05, 0.05, 0.05, 0.06, 0.06, 0.06, 0.07, 0.07, 0.07, 0.08, 0.08, 0.08, 0.08, 0.09, 0.09, 0.09, 0.1, 0.1, 0.2, 0.25, 0.2, 0.18, 0.2, 0.2, 0.22, 0.25, 0.2, 0.15, 0.28, 0.22, 0.2, 0.22, 0.18, 0.15, 0.12, -0.1, -0.12, -0.1, -0.1, -0.1, -0.12, -0.08, -0.05, -0.1, -0.12, -0.2, -0.28, -0.3, -0.3, -0.28, -0.22, -0.3, -0.38, -0.45, -0.6, -0.75, -0.6, -0.7],
  [0.0, 0.05, 0.1, 0.52, 0.3, 0.25, 0.28, 0.1, 0.05, 0.02, 0.0, -0.05, -0.1, -0.15, -0.2, -0.25, -0.22, -0.2, -0.15, -0.1, -0.08, -0.05, -0.05, -0.02, 0.0, 0.02, 0.05, 0.05, 0.02, 0.0, -0.1, -0.2, -0.3, -0.35, -0.4, -0.3, -0.3, -0.25, -0.35, -0.4, -0.45, -0.5, -0.55, -0.6, -0.55, -0.6, -0.62, -0.65, -0.6, -0.65, -0.7, -0.68, -0.7, -0.72, -0.7, -0.72, -0.75, -0.72, -0.75, -0.78, -0.75, -0.6, -0.55, -0.55],
  [0.0, -0.05, -0.1, -0.65, -1.5, -1.6, -1.6, -1.62, -1.65, -1.8, -1.2, -1.1, -1.25, -1.3, -1.35, -1.38, -1.3, -1.32, -1.35, -1.35, -1.36, -1.36, -1.35, -1.38, -2.0, -1.75, -1.72, -1.7, -1.72, -1.75, -1.8, -1.9, -1.95, -2.0, -1.95, -1.55, -1.5, -1.52, -1.55, -1.55, -1.58, -1.6, -1.62, -1.65, -1.68, -1.7, -1.72, -1.75, -1.75, -1.78, -1.8, -1.85, -1.95, -1.92, -1.88, -1.8, -1.75, -1.72, -1.7, -1.75, -1.78, -1.8, -1.7, -1.55],
  [0.0, -0.05, -0.1, -0.3, -0.4, -0.6, -0.75, -1.0, -0.8, -1.55, -1.0, -1.1, -1.2, -1.3, -1.25, -1.3, -1.32, -1.3, -1.0, -0.95, -1.1, -1.2, -1.3, -1.35, -1.5, -1.52, -1.5, -1.5, -1.48, -1.48, -1.5, -1.52, -1.5, -1.52, -1.55, -1.5, -1.45, -1.52, -1.55, -1.58, -1.6, -1.6, -1.62, -1.63, -1.65, -1.7, -1.75, -1.78, -1.78, -1.8, -1.78, -1.75, -1.72, -1.7, -1.65, -1.6, -1.58, -1.55, -1.55, -1.58, -1.55, -1.55, -1.56, -1.55],
  [0.0, 0.02, 0.0, -0.05, -0.1, -0.15, -0.2, -0.18, -0.2, -0.22, -0.2, -0.25, -0.22, -0.25, -0.28, -0.3, -0.28, -0.3, -0.32, -0.35, -0.38, -0.4, -0.45, -0.5, -0.55, -0.6, -0.62, -0.7, -0.75, -0.8, -0.85, -0.95, -1.0, -0.95, -0.9, -1.0, -1.05, -1.0, -1.02, -1.0, -0.98, -1.0, -1.02, -1.0, -1.05, -1.1, -1.15, -1.2, -1.2, -1.25, -1.28, -1.3, -1.32, -1.35, -1.3, -1.35, -1.4, -1.38, -1.45, -1.5, -1.45, -1.4, -1.35, -1.3],
  [0.0, 0.05, 0.1, 0.05, 0.0, -0.1, -0.12, -0.15, -0.15, -0.12, -0.1, -0.05, -0.05, -0.08, -0.1, -0.12, -0.15, -0.15, -0.15, -0.18, -0.2, -0.2, -0.22, -0.25, -0.05, -0.1, -0.15, -0.2, -0.25, -0.3, -0.35, -0.42, -0.5, -0.55, -0.45, -0.4, -0.35, -0.3, -0.25, -0.28, -0.35, -0.4, -0.45, -0.5, -0.55, -0.6, -0.65, -0.7, -0.75, -0.72, -0.8, -0.85, -0.88, -0.9, -0.9, -0.92, -0.95, -0.95, -0.98, -1.0, -0.98, -0.95, -0.9, -0.95],
  [0.0, 0.0, -0.05, -0.1, -0.15, -0.2, -0.22, -0.25, -0.3, -0.32, -0.35, -0.38, -0.4, -0.45, -0.48, -0.5, -0.48, -0.5, -0.5, -0.52, -0.5, -0.5, -0.52, -0.55, -0.58, -0.6, -0.62, -0.65, -0.68, -0.7, -0.75, -0.8, -0.85, -0.9, -0.95, -1.1, -1.0, -1.05, -1.0, -0.95, -0.98, -1.0, -1.02, -1.05, -1.08, -1.0, -1.05, -1.1, -1.1, -1.15, -1.2, -1.2, -1.22, -1.3, -1.25, -1.2, -1.25, -1.2, -1.25, -1.3, -1.2, -1.15, -1.1, -1.15],
  [0.0, 0.05, 0.1, 0.2, 0.3, 0.25, 0.2, 0.25, 0.15, 0.1, 0.05, 0.0, -0.05, -0.1, -0.15, -0.15, -0.18, -0.2, -0.22, -0.25, -0.25, -0.28, -0.3, -0.3, -0.32, -0.35, -0.38, -0.4, -0.45, -0.5, -0.55, -0.58, -0.62, -0.65, -0.6, -0.55, -0.5, -0.45, -0.48, -0.5, -0.55, -0.6, -0.62, -0.65, -0.7, -0.75, -0.8, -0.85, -0.8, -0.85, -0.9, -0.9, -0.92, -0.95, -0.95, -0.98, -1.0, -1.0, -1.02, -1.05, -1.0, -0.98, -0.95, -0.9],
  [0.0, 0.02, 0.0, -0.05, -0.08, -0.12, -0.15, -0.15, -0.18, -0.2, -0.18, -0.2, -0.22, -0.25, -0.25, -0.28, -0.3, -0.32, -0.35, -0.38, -0.4, -0.42, -0.45, -0.48, -0.5, -0.52, -0.55, -0.6, -0.62, -0.65, -0.7, -0.75, -0.85, -1.0, -1.4, -1.1, -1.15, -1.2, -1.25, -1.25, -1.3, -1.32, -1.35, -1.4, -1.45, -1.45, -1.5, -1.55, -1.55, -1.6, -1.65, -1.7, -1.72, -1.5, -1.35, -1.3, -1.5, -1.65, -1.7, -1.75, -1.78, -1.8, -1.7, -1.2],
  [0.0, 0.05, 0.08, 0.1, 0.05, 0.0, -0.05, -0.1, -0.12, -0.15, -0.12, -0.1, -0.12, -0.15, -0.18, -0.2, -0.22, -0.25, -0.22, -0.2, -0.25, -0.28, -0.3, -0.32, -0.35, -0.38, -0.4, -0.42, -0.45, -0.48, -0.5, -0.55, -0.6, -0.62, -0.58, -0.55, -0.4, -0.35, -0.4, -0.45, -0.5, -0.55, -0.5, -0.55, -0.6, -0.65, -0.6, -0.62, -0.6, -0.62, -0.65, -0.65, -0.7, -0.72, -0.7, -0.72, -0.75, -0.72, -0.75, -0.78, -0.8, -0.7, -0.6, -0.65],
];

// ---------- labels ----------
const Y_TITLE = "Доходность";
const CLUSTER_TITLES = ["Кластер № 1", "Кластер № 2", "Кластер № 3", "Кластер № 4", "Кластер № 5"];

// ---------- styling / layout ----------
const RED = "rgb(228, 16, 16)";
const BLACK = "rgba(0, 0, 0, 0.82)";
const GRID = "#c6c6c6";
const SPINE = "#3c3c3c";
const TICK_TEXT = "#333333";
const PAD_L = 60;
const PAD_T = 10;
const PAD_R = 40;
const PAD_B = 40;

interface PanelCfg {
  left: number;
  top: number;
  right: number;
  bottom: number;
  yMin: number;
  yMax: number;
  yTicks: number[];
  blackDays: number[];
  stocks: number[][];
  mean: number[];
  titleOffset: number;
  label: string;
  labelLeft: number;
  labelTop: number;
}

const PANELS: PanelCfg[] = [
  { left: 58, top: 14, right: 548, bottom: 351, yMin: -0.52, yMax: 1.105, yTicks: C1_Y_TICKS, blackDays: COARSE_DAYS, stocks: [...C1_STOCKS, ...C1_NOISY], mean: C1_MEAN, titleOffset: 43, label: CLUSTER_TITLES[0], labelLeft: 64, labelTop: 400 },
  { left: 622, top: 15, right: 1114, bottom: 352, yMin: -2.125, yMax: 1.37, yTicks: C2_Y_TICKS, blackDays: FINE_DAYS, stocks: C2_STOCKS, mean: C2_MEAN, titleOffset: 44, label: CLUSTER_TITLES[1], labelLeft: 625, labelTop: 401 },
  { left: 57, top: 432, right: 552, bottom: 751, yMin: -0.735, yMax: 2.67, yTicks: C3_Y_TICKS, blackDays: FINE_DAYS, stocks: C3_STOCKS, mean: C3_MEAN, titleOffset: 41, label: CLUSTER_TITLES[2], labelLeft: 64, labelTop: 798 },
  { left: 630, top: 442, right: 1124, bottom: 752, yMin: -0.877, yMax: 0.61, yTicks: C4_Y_TICKS, blackDays: COARSE_DAYS, stocks: [...C4_STOCKS, ...C4_NOISY], mean: C4_MEAN, titleOffset: 42, label: CLUSTER_TITLES[3], labelLeft: 630, labelTop: 799 },
  { left: 297, top: 839, right: 828, bottom: 1157, yMin: -2.13, yMax: 0.66, yTicks: C5_Y_TICKS, blackDays: FINE_DAYS, stocks: C5_STOCKS, mean: C5_MEAN, titleOffset: 45, label: CLUSTER_TITLES[4], labelLeft: 298, labelTop: 1205 },
];

function toPoints(days: number[], vals: number[]) {
  const n = Math.min(days.length, vals.length);
  const out: { x: number; y: number }[] = [];
  for (let i = 0; i < n; i++) out.push({ x: days[i], y: vals[i] });
  return out;
}

function fmtTick(v: number) {
  const s = Number(v).toFixed(1);
  return s.startsWith("-") ? "\u2212" + s.slice(1) : s;
}

function Panel({ cfg }: { cfg: PanelCfg }) {
  const ref = useRef<HTMLCanvasElement | null>(null);
  const plotW = cfg.right - cfg.left;
  const plotH = cfg.bottom - cfg.top;
  const cw = plotW + PAD_L + PAD_R;
  const ch = plotH + PAD_T + PAD_B;

  useEffect(() => {
    if (!ref.current) return;
    const decor = {
      id: "decor",
      afterDraw(chart: any) {
        const { ctx, chartArea: a, scales } = chart;
        ctx.save();
        ctx.strokeStyle = SPINE;
        ctx.lineWidth = 1.2;
        ctx.strokeRect(Math.round(a.left) + 0.5, Math.round(a.top) + 0.5, Math.round(a.right - a.left), Math.round(a.bottom - a.top));
        ctx.fillStyle = TICK_TEXT;
        ctx.font = '10px "DejaVu Sans"';
        ctx.textAlign = "center";
        ctx.textBaseline = "middle";
        X_TICK_DAYS.forEach((d, i) => {
          const px = scales.x.getPixelForValue(d);
          ctx.save();
          ctx.translate(px - 2, a.bottom + 20);
          ctx.rotate((-15 * Math.PI) / 180);
          ctx.fillText(X_TICK_LABELS[i], 0, 0);
          ctx.restore();
        });
        ctx.save();
        ctx.translate(a.left - cfg.titleOffset, (a.top + a.bottom) / 2);
        ctx.rotate(-Math.PI / 2);
        ctx.scale(1.15, 1);
        ctx.fillText(Y_TITLE, 0, 0);
        ctx.restore();
        ctx.restore();
      },
    };

    const datasets: any[] = [
      {
        data: toPoints(FINE_DAYS, cfg.mean),
        borderColor: RED,
        borderWidth: 3.5,
        pointRadius: 0,
        tension: 0,
        borderJoinStyle: "round",
        borderCapStyle: "round",
        order: 0,
      },
      ...cfg.stocks.map((vals) => ({
        data: toPoints(cfg.blackDays, vals),
        borderColor: BLACK,
        borderWidth: 0.9,
        pointRadius: 0,
        tension: 0,
        order: 1,
      })),
    ];

    const gridOpts = {
      color: GRID,
      lineWidth: 1,
      drawTicks: true,
      tickLength: 4,
      tickColor: SPINE,
      tickWidth: 1,
    };

    const chart = new Chart(ref.current, {
      type: "line",
      data: { datasets },
      plugins: [decor],
      options: {
        animation: false,
        responsive: false,
        devicePixelRatio: 1,
        events: [],
        layout: { padding: { left: 0, top: PAD_T, right: PAD_R, bottom: 0 } },
        plugins: {
          legend: { display: false },
          tooltip: { enabled: false },
          title: { display: false },
        },
        scales: {
          x: {
            type: "linear",
            min: X_MIN,
            max: X_MAX,
            afterBuildTicks: (s: any) => {
              s.ticks = X_TICK_DAYS.map((v) => ({ value: v }));
            },
            afterFit: (s: any) => {
              s.height = PAD_B;
              s.paddingLeft = 0;
              s.paddingRight = 0;
              s.paddingTop = 0;
              s.paddingBottom = 0;
            },
            ticks: { display: false },
            grid: gridOpts,
            border: { display: false },
          },
          y: {
            type: "linear",
            min: cfg.yMin,
            max: cfg.yMax,
            afterBuildTicks: (s: any) => {
              s.ticks = cfg.yTicks.map((v) => ({ value: v }));
            },
            afterFit: (s: any) => {
              s.width = PAD_L;
              s.paddingLeft = 0;
              s.paddingRight = 0;
              s.paddingTop = 0;
              s.paddingBottom = 0;
            },
            ticks: {
              callback: (v: any) => fmtTick(Number(v)),
              font: { family: "DejaVu Sans", size: 10 },
              color: TICK_TEXT,
              padding: 3,
            },
            grid: gridOpts,
            border: { display: false },
          },
        },
      } as any,
    });
    return () => chart.destroy();
  }, [cfg]);

  return (
    <>
      <canvas
        ref={ref}
        width={cw}
        height={ch}
        style={{ position: "absolute", left: cfg.left - PAD_L, top: cfg.top - PAD_T, width: cw, height: ch }}
      />
      <div
        style={{
          position: "absolute",
          left: cfg.labelLeft,
          top: cfg.labelTop,
          fontFamily: '"DejaVu Serif", serif',
          fontSize: 20,
          lineHeight: "20px",
          color: "#d8202a",
          whiteSpace: "nowrap",
        }}
      >
        {cfg.label}
      </div>
    </>
  );
}

export default function App() {
  return (
    <div
      style={{
        position: "absolute",
        left: 0,
        top: 0,
        width: 1146,
        height: 1224,
        overflow: "hidden",
        background: "#ffffff",
      }}
    >
      {PANELS.map((p, i) => (
        <Panel key={i} cfg={p} />
      ))}
    </div>
  );
}
